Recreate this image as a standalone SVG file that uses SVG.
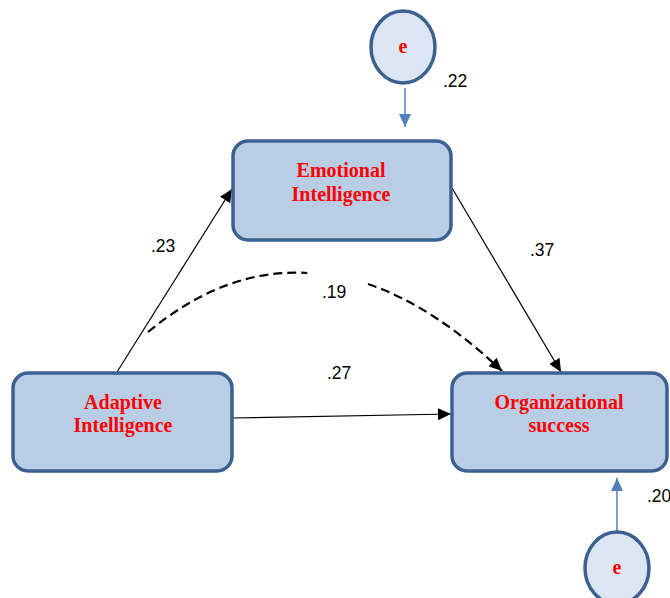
<svg xmlns="http://www.w3.org/2000/svg" width="670" height="598" viewBox="0 0 670 598">
<style>
.box{fill:#b9cde5;stroke:#3c6190;stroke-width:3.5}
.err{fill:#dce6f2;stroke:#3c6190;stroke-width:3.5}
.nt{font-family:"Liberation Serif","Times New Roman",serif;font-weight:bold;font-size:20px;fill:#ff0000;text-anchor:middle}
.et{font-family:"Liberation Serif","Times New Roman",serif;font-weight:bold;font-size:20px;fill:#ff0000;text-anchor:middle}
.lb{font-family:"Liberation Sans",Arial,sans-serif;font-size:17.5px;fill:#000}
.c{fill:none;stroke:#000;stroke-width:1.2}
.d{fill:none;stroke:#000;stroke-width:2.2;stroke-dasharray:9,5}
.b{fill:none;stroke:#4f81bd;stroke-width:1.5}
</style>
<defs>
<marker id="ah" markerUnits="userSpaceOnUse" markerWidth="14" markerHeight="12" refX="13" refY="6" orient="auto">
<path d="M0,0 L13,6 L0,12 z" fill="#000"/>
</marker>
<marker id="bh" markerUnits="userSpaceOnUse" markerWidth="14" markerHeight="12" refX="13" refY="6" orient="auto">
<path d="M0,0 L13,6 L0,12 z" fill="#4f81bd"/>
</marker>
</defs>
<g id="connectors">
<line class="c" x1="117" y1="372" x2="232" y2="189" marker-end="url(#ah)"/>
<line class="c" x1="452" y1="188" x2="561" y2="372" marker-end="url(#ah)"/>
<line class="c" x1="232" y1="418" x2="451" y2="414" marker-end="url(#ah)"/>
<path class="d" d="M148,332 Q225.5,268 307.3,273"/>
<path class="d" d="M368,284 Q433.7,306.3 502,371" marker-end="url(#ah)"/>
<line class="b" x1="405" y1="88" x2="405" y2="127" marker-end="url(#bh)"/>
<line class="b" x1="617" y1="532" x2="617" y2="478" marker-end="url(#bh)"/>
<text class="lb" x="151" y="252">.23</text>
<text class="lb" x="530" y="256">.37</text>
<text class="lb" x="322" y="298">.19</text>
<text class="lb" x="327" y="379">.27</text>
<text class="lb" x="443" y="87">.22</text>
<text class="lb" x="647" y="502">.20</text>
</g>
<g id="emotional">
<rect class="box" x="233" y="141" width="218" height="99" rx="15"/>
<text class="nt" x="341" y="177">Emotional</text>
<text class="nt" x="341" y="201">Intelligence</text>
</g>
<g id="adaptive">
<rect class="box" x="13" y="373" width="219" height="98" rx="15"/>
<text class="nt" x="123" y="409">Adaptive</text>
<text class="nt" x="123" y="432">Intelligence</text>
</g>
<g id="organizational">
<rect class="box" x="452" y="373" width="215" height="98" rx="15"/>
<text class="nt" x="559" y="409">Organizational</text>
<text class="nt" x="559" y="432">success</text>
</g>
<g id="e1">
<ellipse class="err" cx="403" cy="47" rx="32" ry="36"/>
<text class="et" x="403" y="53">e</text>
</g>
<g id="e2">
<ellipse class="err" cx="617" cy="568" rx="32" ry="36"/>
<text class="et" x="617" y="574">e</text>
</g>
</svg>
